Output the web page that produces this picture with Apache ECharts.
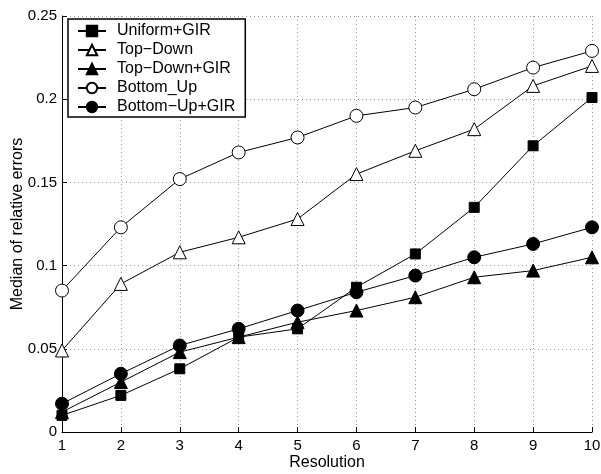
<!DOCTYPE html>
<html><head><meta charset="utf-8">
<script src="https://cdn.jsdelivr.net/npm/echarts@6/dist/echarts.min.js"></script>
<style>html,body{margin:0;padding:0;background:#fff}#c{width:601px;height:474px}</style>
</head><body><div id="c"></div>
<script>
const resolutions = [1,2,3,4,5,6,7,8,9,10];
const uniformGIR = [0.010,0.022,0.038,0.057,0.062,0.087,0.107,0.135,0.172,0.201];
const topDown = [0.049,0.089,0.108,0.117,0.128,0.155,0.169,0.182,0.208,0.220];
const topDownGIR = [0.012,0.030,0.048,0.057,0.066,0.073,0.081,0.093,0.097,0.105];
const bottomUp = [0.085,0.123,0.152,0.168,0.177,0.190,0.195,0.206,0.219,0.229];
const bottomUpGIR = [0.017,0.035,0.052,0.062,0.073,0.084,0.094,0.105,0.113,0.123];
const names = ['Uniform+GIR','Top\u2212Down','Top\u2212Down+GIR','Bottom_Up','Bottom\u2212Up+GIR'];

const font = 'Liberation Sans, Arial, sans-serif';
function mk(name, vals, symbol, size, filled) {
  return {
    name: name, type: 'line',
    data: resolutions.map((r,i)=>[r, vals[i]]),
    symbol: symbol, symbolSize: size, showSymbol: true,
    lineStyle: {color:'#000', width:1},
    itemStyle: {color: filled ? '#000' : '#fff', borderColor:'#000', borderWidth:1},
    emphasis: {disabled:true},
    animation: false
  };
}
const chart = echarts.init(document.getElementById('c'));
chart.setOption({
  animation: false,
  grid: {left:62, right:9, top:16, bottom:42, containLabel:false, outerBoundsMode:'none'},
  legend: {
    orient:'vertical', left:68, top:19, padding:[4,10,2,9],
    itemGap:3, itemWidth:28, itemHeight:13,
    backgroundColor:'#fff', borderColor:'#000', borderWidth:1.5, borderRadius:0,
    textStyle:{fontFamily:font, fontSize:16, color:'#000', padding:[0,0,0,6]},
    data: names
  },
  xAxis: {
    type:'value', min:1, max:10, interval:1,
    name:'Resolution', nameLocation:'middle', nameGap:23, nameMoveOverlap:false,
    nameTextStyle:{fontFamily:font, fontSize:16, color:'#000'},
    axisLine:{lineStyle:{color:'#000', width:1}},
    axisTick:{inside:true, length:5, lineStyle:{color:'#000'}},
    axisLabel:{fontFamily:font, fontSize:15, color:'#000', margin:6},
    splitLine:{show:true, lineStyle:{color:'#999', type:[1,3], width:1}}
  },
  yAxis: {
    type:'value', min:0, max:0.25, interval:0.05,
    name:'Median of relative errors', nameLocation:'middle', nameGap:36, nameMoveOverlap:false,
    nameTextStyle:{fontFamily:font, fontSize:16, color:'#000'},
    axisLine:{show:true, lineStyle:{color:'#000', width:1}},
    axisTick:{show:true, inside:true, length:5, lineStyle:{color:'#000'}},
    axisLabel:{fontFamily:font, fontSize:15, color:'#000', margin:5},
    splitLine:{show:true, lineStyle:{color:'#999', type:[1,3], width:1}}
  },
  series: [
    mk(names[0], uniformGIR, 'rect', 10, true),
    mk(names[1], topDown, 'triangle', 13, false),
    mk(names[2], topDownGIR, 'triangle', 13, true),
    mk(names[3], bottomUp, 'circle', 13, false),
    mk(names[4], bottomUpGIR, 'circle', 13, true)
  ]
});
</script></body></html>
